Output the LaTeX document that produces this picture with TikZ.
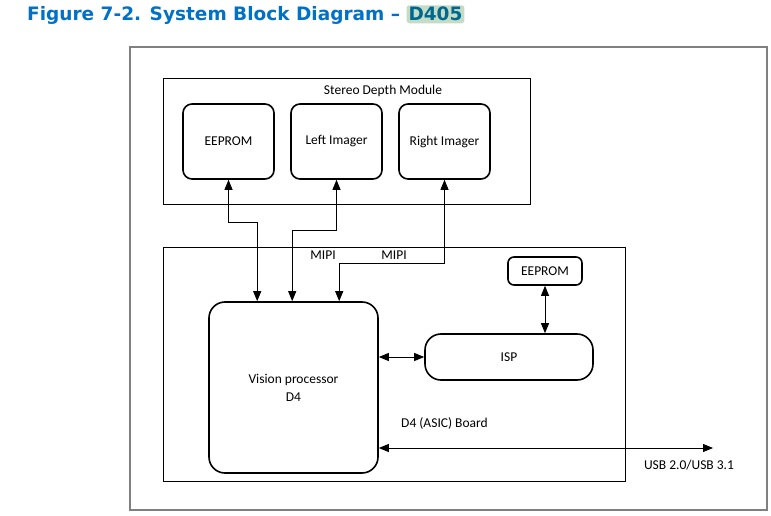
\documentclass[tikz,border=0pt]{standalone}
\usepackage{fontspec}
\setmainfont{Carlito}
\newfontfamily\titlefont{DejaVu Sans}
\usetikzlibrary{arrows.meta}
\definecolor{titleblue}{HTML}{0071C5}
\definecolor{tagback}{HTML}{C4DCC6}
\definecolor{tagtext}{HTML}{00688F}
\definecolor{framegray}{HTML}{808080}

\tikzset{
  block/.style={draw, line width=1.6pt, rounded corners=9pt, inner sep=0pt, align=center},
  bigblock/.style={block, rounded corners=16pt},
  frame/.style={draw, line width=0.9pt},
  dbl/.style={line width=0.9pt, {Triangle[length=10pt,width=8pt]}-{Triangle[length=10pt,width=8pt]}},
  lbl/.style={inner sep=0pt, font=\fontsize{13.5}{18}\selectfont}
}

\begin{document}
\begin{tikzpicture}[x=1pt,y=-1pt]
\useasboundingbox (0,0) rectangle (771,516);
% title
\node[anchor=base west, inner sep=0pt, text=titleblue, font=\titlefont\bfseries\fontsize{18.5}{22}\selectfont] (title) at (27,21) {Figure 7-2. System Block Diagram –};
\node[anchor=base west, inner sep=2pt, fill=tagback, rounded corners=3pt, text=tagtext, font=\titlefont\bfseries\fontsize{18.5}{22}\selectfont] (tag) at ([xshift=6pt]title.base east) {D405};
% frames
\draw[line width=1.4pt, framegray] (130,47) rectangle (767,510);
\draw[frame] (163,78) rectangle (530,204);
\node[lbl] (sdm) at (383,91) {Stereo Depth Module};
\draw[frame] (163,247) rectangle (625,481);
\node[lbl, anchor=west] (board) at (401,423) {D4 (ASIC) Board};
% blocks
\node[block, minimum width=91, minimum height=75, lbl] (ee1) at (228.5,141.5) {EEPROM};
\node[block, minimum width=91, minimum height=75, lbl] (li) at (336.5,141.5) {Left Imager};
\node[block, minimum width=91, minimum height=75, lbl] (ri) at (444.5,141.5) {Right Imager};
\node[bigblock, minimum width=169, minimum height=171, lbl] (vp) at (293.5,387.5) {Vision processor\\D4};
\node[bigblock, minimum width=168, minimum height=46, lbl] (isp) at (509,357) {ISP};
\node[block, rounded corners=6pt, minimum width=74, minimum height=28, lbl] (ee2) at (545,271) {EEPROM};
% links
\draw[dbl] (ee1.south) -- ++(0,43) -| ([xshift=49pt]vp.north west);
\draw[dbl] (li.south) -- ++(0,51) -| ([xshift=84pt]vp.north west);
\draw[dbl] (ri.south) -- ++(0,84) -| ([xshift=131pt]vp.north west);
\node[lbl] (mipi1) at (323,255) {MIPI};
\node[lbl] (mipi2) at (394,255) {MIPI};
\draw[dbl] (vp.east |- isp.west) -- (isp.west);
\draw[dbl] (ee2.south) -- (ee2.south |- isp.north);
\coordinate (usb) at (713,448);
\draw[dbl] (vp.east |- usb) -- (usb);
\node[lbl] (usblbl) at (689,465) {USB 2.0/USB 3.1};
\end{tikzpicture}
\end{document}
